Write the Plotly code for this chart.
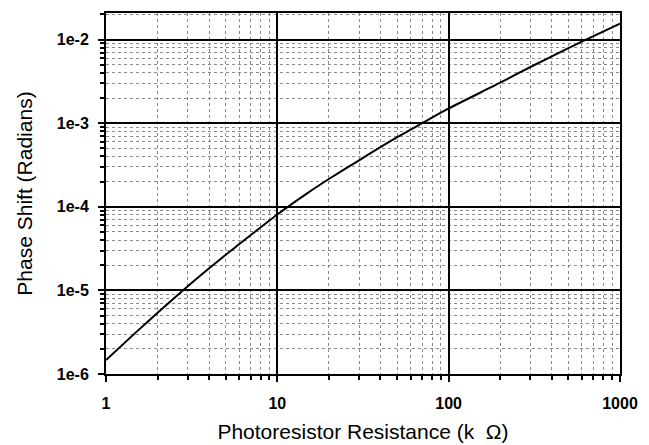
import numpy as np
import plotly.graph_objects as go

resistance_k = [1, 1.5, 2, 3, 4, 5, 7, 10, 15, 20, 30, 50, 70, 100, 200, 300, 500, 700, 1000]
phase_shift = [1.47e-6, 3.17e-6, 5.4e-6, 1.12e-5, 1.84e-5, 2.67e-5, 4.6e-5, 8.1e-5,
               1.46e-4, 2.15e-4, 3.6e-4, 6.8e-4, 1.0e-3, 1.5e-3, 3.05e-3, 4.7e-3,
               7.9e-3, 1.1e-2, 1.55e-2]

x_tick_vals = [1, 10, 100, 1000]
x_tick_text = ["1", "10", "100", "1000"]
y_tick_vals = [1e-6, 1e-5, 1e-4, 1e-3, 1e-2]
y_tick_text = ["1e-6", "1e-5", "1e-4", "1e-3", "1e-2"]

fig = go.Figure()
fig.add_trace(go.Scatter(x=resistance_k, y=phase_shift, mode="lines",
                         line=dict(color="black", width=2, shape="spline", smoothing=0.6),
                         showlegend=False))

font_family = "Liberation Sans, Arial, Helvetica, sans-serif"
minor = dict(dtick="D1", ticks="outside", ticklen=4, tickcolor="black",
             showgrid=True, gridcolor="#8a8a8a", griddash="dot", gridwidth=1)

fig.update_xaxes(type="log", range=[0, 3], tickvals=x_tick_vals, ticktext=x_tick_text,
                 ticks="outside", ticklen=6, tickwidth=1.5, tickcolor="black",
                 showgrid=True, gridcolor="black", gridwidth=2,
                 showline=True, linecolor="black", linewidth=2, mirror=True,
                 minor=minor, zeroline=False, ticklabelstandoff=8, automargin=False,
                 tickfont=dict(family=font_family, size=16, color="black", weight="bold"),
                 title=dict(text="Photoresistor Resistance (k  Ω)", standoff=13,
                            font=dict(family=font_family, size=21, color="black")))
fig.update_yaxes(type="log", range=[-6, np.log10(0.0208)], tickvals=y_tick_vals, ticktext=y_tick_text,
                 ticks="outside", ticklen=6, tickwidth=1.5, tickcolor="black",
                 showgrid=True, gridcolor="black", gridwidth=2,
                 showline=True, linecolor="black", linewidth=2, mirror=True,
                 minor=minor, zeroline=False, ticklabelstandoff=6, automargin=False,
                 tickfont=dict(family=font_family, size=16, color="black", weight="bold"),
                 title=dict(text="Phase Shift (Radians)", standoff=18,
                            font=dict(family=font_family, size=21, color="black")))

fig.update_layout(width=649, height=445, margin=dict(l=106, r=29, t=13, b=71),
                  plot_bgcolor="white", paper_bgcolor="white")

fig.write_html("out.html", config={"displayModeBar": False},
               post_script="document.body.style.margin='0';")
